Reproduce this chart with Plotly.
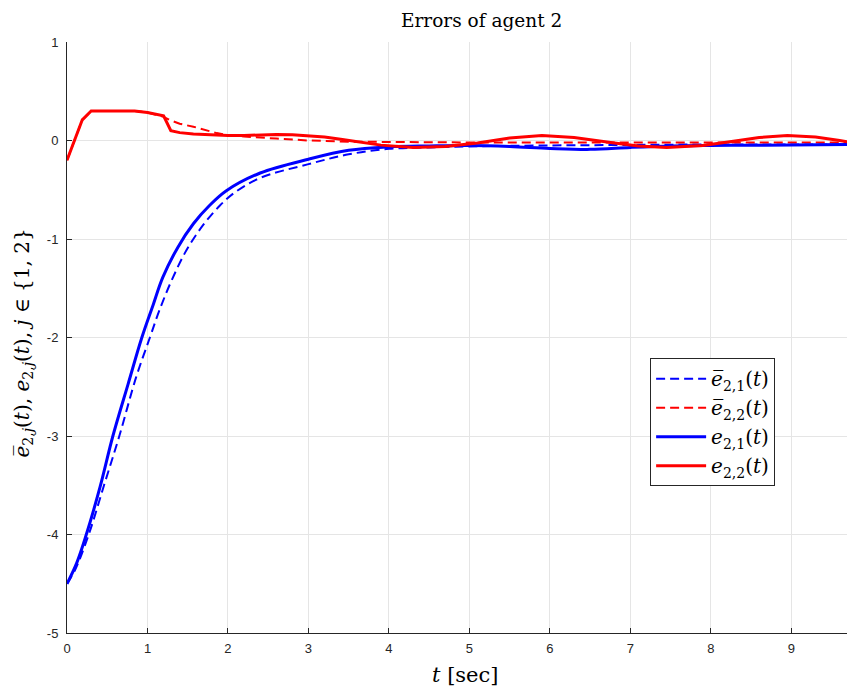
import plotly.graph_objects as go

# ---- data ----
t_e21_bar = [0, 0.1, 0.27, 0.46, 0.65, 0.86, 1.03, 1.15, 1.30, 1.48, 1.69, 1.90, 2.08, 2.4, 3.0, 3.5, 4.0,
             4.5, 5.0, 6.0, 7.0, 8.0, 9.0, 9.79]
v_e21_bar = [-4.5, -4.36, -4.0, -3.5, -3.0, -2.4, -2.0, -1.72, -1.42, -1.12, -0.86, -0.66, -0.53, -0.38, -0.24, -0.14, -0.085,
             -0.07, -0.06, -0.05, -0.045, -0.04, -0.04, -0.04]

t_e22_bar = [0, 0.19, 0.3, 0.6, 0.84, 1.0, 1.2, 1.27, 1.4, 1.57, 1.75, 1.86, 2.0, 2.2, 2.6, 3.0,
             3.5, 4.0, 5.0, 6.0, 7.0, 8.0, 9.0, 9.79]
v_e22_bar = [-0.20, 0.21, 0.30, 0.30, 0.30, 0.285, 0.24, 0.21, 0.17, 0.14, 0.10, 0.075, 0.055, 0.04, 0.02, 0.0,
             -0.012, -0.017, -0.02, -0.02, -0.02, -0.02, -0.02, -0.02]

t_e21 = [0, 0.12, 0.24, 0.41, 0.57, 0.76, 0.93, 1.07, 1.19, 1.38, 1.57, 1.77, 1.98, 2.4, 3.0, 3.5,
         4.0, 4.5, 5.0, 5.5, 6.0, 6.5, 7.0, 7.5, 8.0, 8.5, 9.0, 9.79]
v_e21 = [-4.5, -4.29, -4.0, -3.52, -3.0, -2.47, -2.0, -1.67, -1.39, -1.08, -0.845, -0.66, -0.51, -0.33, -0.19, -0.10,
         -0.065, -0.055, -0.05, -0.06, -0.08, -0.09, -0.07, -0.055, -0.05, -0.048, -0.045, -0.04]

t_e22 = [0, 0.19, 0.3, 0.6, 0.84, 1.0, 1.1, 1.2, 1.29, 1.4, 1.57, 1.8, 2.0, 2.2, 2.4, 2.6, 2.8, 3.0,
         3.2, 3.4, 3.64, 3.9, 4.3, 4.7, 5.1, 5.5, 5.9, 6.3, 6.8, 7.1, 7.45, 7.9, 8.3, 8.6, 8.95,
         9.3, 9.6, 9.79]
v_e22 = [-0.20, 0.21, 0.30, 0.30, 0.30, 0.285, 0.27, 0.25, 0.10, 0.08, 0.065, 0.055, 0.05, 0.052, 0.057, 0.06, 0.058, 0.047,
         0.035, 0.012, -0.02, -0.047, -0.07, -0.06, -0.025, 0.025, 0.05, 0.03, -0.025, -0.055, -0.07, -0.05, -0.005, 0.03, 0.05,
         0.035, 0.0, -0.025]

x_ticks = [0, 1, 2, 3, 4, 5, 6, 7, 8, 9]
y_ticks = [1, 0, -1, -2, -3, -4, -5]
y_tick_text = ["1", "0", "-1", "-2", "-3", "-4", "-5"]

BLUE = "#0000ff"
RED = "#ff0000"
DASH = "9px,5px"

fig = go.Figure()
fig.add_trace(go.Scatter(x=t_e21_bar, y=v_e21_bar, mode="lines",
                         line=dict(color=BLUE, width=2, dash=DASH, shape="spline", smoothing=1.0),
                         name="<i>e\u0305</i><sub>2,1</sub>(<i>t</i>)"))
fig.add_trace(go.Scatter(x=t_e22_bar, y=v_e22_bar, mode="lines",
                         line=dict(color=RED, width=2, dash=DASH),
                         name="<i>e\u0305</i><sub>2,2</sub>(<i>t</i>)"))
fig.add_trace(go.Scatter(x=t_e21, y=v_e21, mode="lines",
                         line=dict(color=BLUE, width=3, shape="spline", smoothing=1.0),
                         name="<i>e</i><sub>2,1</sub>(<i>t</i>)"))
fig.add_trace(go.Scatter(x=t_e22, y=v_e22, mode="lines",
                         line=dict(color=RED, width=3),
                         name="<i>e</i><sub>2,2</sub>(<i>t</i>)"))

axis_common = dict(showgrid=True, gridcolor="#e5e5e5", gridwidth=1, zeroline=False,
                   showline=True, linecolor="#262626", linewidth=1, mirror=False,
                   ticks="inside", ticklen=5, tickcolor="#262626",
                   tickfont=dict(family="Liberation Sans, Arial, sans-serif", size=13, color="#262626"))

fig.update_xaxes(range=[0, 9.79], tickvals=x_ticks, ticktext=[str(v) for v in x_ticks],
                 ticklabelstandoff=3, **axis_common)
fig.update_yaxes(range=[-5, 1], tickvals=y_ticks, ticktext=y_tick_text,
                 ticklabelstandoff=5, **axis_common)

serif = "DejaVu Serif, Liberation Serif, serif"
fig.update_layout(
    width=847, height=683,
    margin=dict(l=59, r=0, t=34, b=58),
    plot_bgcolor="white", paper_bgcolor="white",
    showlegend=True,
    legend=dict(x=0.740, y=0.465, xanchor="left", yanchor="top",
                bgcolor="white", bordercolor="#262626", borderwidth=1,
                font=dict(family=serif, size=20, color="black"),
                tracegroupgap=0, itemwidth=50),
    annotations=[
        dict(text="Errors of agent 2", x=0.5, y=1, xref="paper", yref="paper",
             xanchor="center", yanchor="middle", yshift=22, xshift=20, showarrow=False,
             font=dict(family=serif, size=18.5, color="black")),
        dict(text="<i>t</i> [sec]", x=0.5, y=0, xref="paper", yref="paper",
             xanchor="center", yanchor="middle", yshift=-42, xshift=4, showarrow=False,
             font=dict(family=serif, size=21, color="black")),
        dict(text="<i>e\u0305</i><sub>2,<i>j</i></sub>(<i>t</i>), <i>e</i><sub>2,<i>j</i></sub>(<i>t</i>), <i>j</i> \u2208 {1, 2}",
             x=0, y=0.5, xref="paper", yref="paper", xanchor="center", yanchor="middle",
             xshift=-45, yshift=-6, textangle=-90, showarrow=False,
             font=dict(family=serif, size=20, color="black")),
    ],
)

fig.write_html("out.html")
